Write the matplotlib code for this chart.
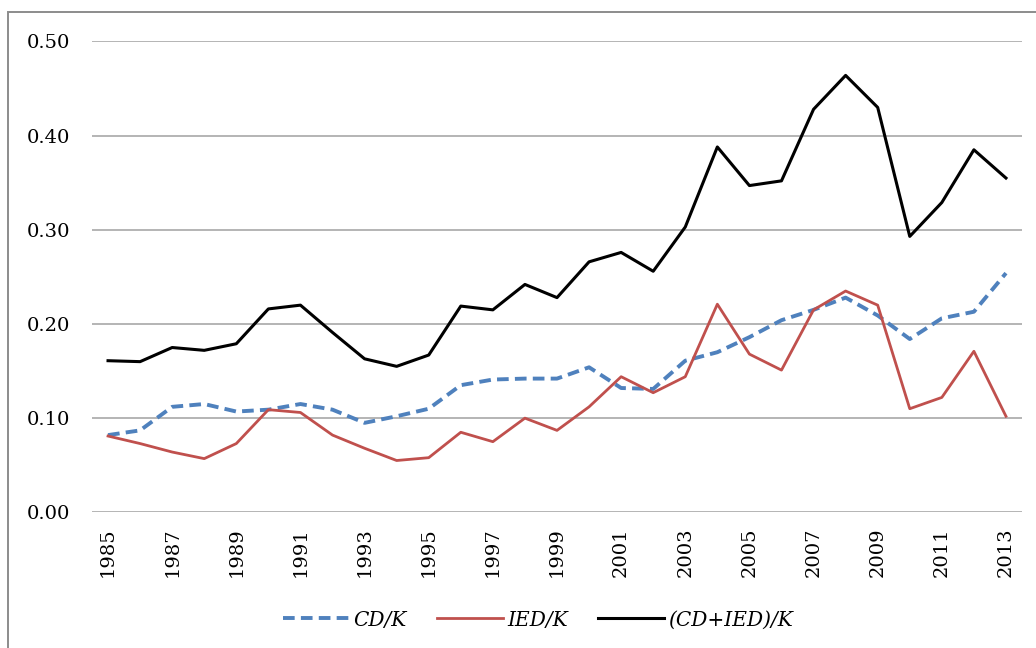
import matplotlib
matplotlib.use("Agg")
import matplotlib.pyplot as plt
from matplotlib.patches import Rectangle

years = list(range(1985, 2014))
cd_k = [0.082, 0.087, 0.112, 0.115, 0.107, 0.109, 0.115, 0.109, 0.095, 0.102,
        0.110, 0.135, 0.141, 0.142, 0.142, 0.154, 0.132, 0.131, 0.161, 0.170,
        0.186, 0.204, 0.215, 0.228, 0.209, 0.184, 0.206, 0.213, 0.254]
ied_k = [0.081, 0.073, 0.064, 0.057, 0.073, 0.109, 0.106, 0.082, 0.068, 0.055,
         0.058, 0.085, 0.075, 0.100, 0.087, 0.112, 0.144, 0.127, 0.144, 0.221,
         0.168, 0.151, 0.215, 0.235, 0.220, 0.110, 0.122, 0.171, 0.102]
total_k = [0.161, 0.160, 0.175, 0.172, 0.179, 0.216, 0.220, 0.191, 0.163, 0.155,
           0.167, 0.219, 0.215, 0.242, 0.228, 0.266, 0.276, 0.256, 0.303, 0.388,
           0.347, 0.352, 0.428, 0.464, 0.430, 0.293, 0.329, 0.385, 0.355]
labels = ["CD/K", "IED/K", "(CD+IED)/K"]
y_ticks = [0.0, 0.1, 0.2, 0.3, 0.4, 0.5]
x_ticks = list(range(1985, 2014, 2))

plt.rcParams['font.family'] = ['DejaVu Serif']
W, H = 1036, 648
fig = plt.figure(figsize=(W / 100, H / 100), dpi=100)
ax = fig.add_axes([92 / W, 1 - 512.3 / H, 930 / W, 470.8 / H])

ax.plot(years, cd_k, color='#4F81BD', lw=2.8, linestyle=(0, (3, 1.6)), label=labels[0], zorder=3)
ax.plot(years, ied_k, color='#C0504D', lw=2.0, label=labels[1], zorder=4)
ax.plot(years, total_k, color='black', lw=2.2, label=labels[2], zorder=5)

ax.set_xlim(1984.5, 2013.5)
ax.set_ylim(0, 0.5)
ax.set_yticks(y_ticks)
ax.set_yticklabels([f"{v:.2f}" for v in y_ticks], fontsize=14)
ax.set_xticks(x_ticks)
ax.set_xticklabels([str(y) for y in x_ticks], rotation=90, fontsize=14)
ax.tick_params(axis='y', length=0, pad=16)
ax.tick_params(axis='x', length=0, pad=11)
ax.grid(axis='y', color='#A0A0A0', lw=1.1)
ax.set_axisbelow(True)
for s in ax.spines.values():
    s.set_visible(False)

leg = fig.legend(loc='center', bbox_to_anchor=(538 / W, 1 - 620 / H), ncol=3, frameon=False,
                 handlelength=3.3, handletextpad=0.2, columnspacing=1.5,
                 prop={'style': 'italic', 'size': 14.5})

fig.patches.append(Rectangle((8 / W, -0.05), 1.2, (H - 12) / H + 0.05, transform=fig.transFigure,
                             fill=False, edgecolor='#8C8C8C', lw=1.4))

fig.savefig("out.png", dpi=100)
